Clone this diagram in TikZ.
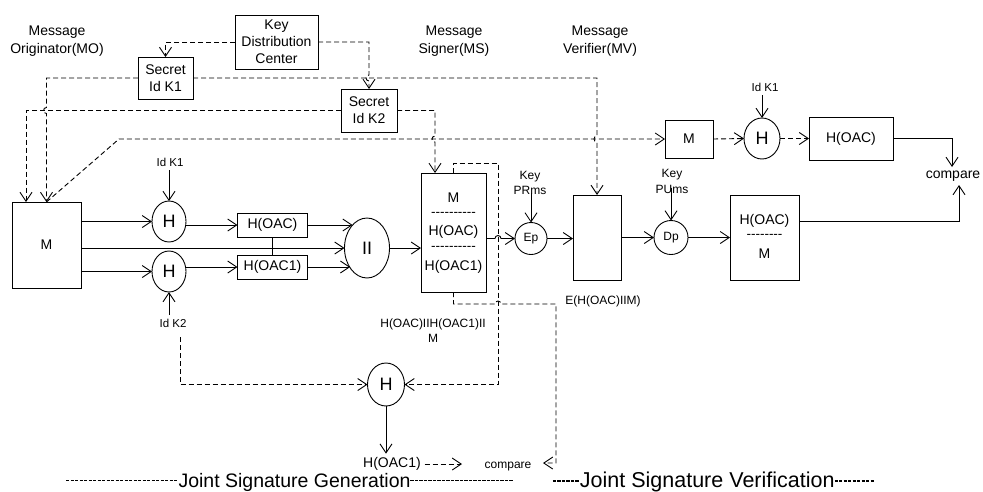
\documentclass[tikz,border=0pt]{standalone}
\usepackage{fontspec}
\setmainfont{Liberation Sans}
\usetikzlibrary{arrows.meta,shapes.geometric,calc}

% text sizes
\newcommand\tA{\fontsize{14}{17}\selectfont}
\newcommand\tM{\fontsize{14}{18}\selectfont}
\newcommand\tB{\fontsize{12}{15.5}\selectfont}
\newcommand\tC{\fontsize{11.5}{14}\selectfont}
\newcommand\tH{\fontsize{18}{20}\selectfont}
\newcommand\tJ{\fontsize{19.5}{22}\selectfont}
\newcommand\tJv{\fontsize{21.5}{24}\selectfont}

\newcount\hycount
% a run of separate hyphens (kerns keep them from joining into dashes)
\newcommand\hyrun[1]{\hycount=0 \loop\ifnum\hycount<#1 -\kern0pt\advance\hycount by 1 \repeat}
% dashed rule inside boxes
\newcommand\hyd[1]{{\fontsize{13.5}{14}\selectfont\raisebox{1.5pt}{\hyrun{#1}}}}
% dashed rule around the section captions, drawn as short rules
\newcommand\hyc[1]{\hycount=0 \loop\ifnum\hycount<#1 \rule[6pt]{3.2pt}{1.4pt}\kern1.3pt\advance\hycount by 1 \repeat}

\begin{document}
\begin{tikzpicture}[x=1pt,y=-1pt,line width=0.9pt,
  rbox/.style={draw,rectangle,inner sep=0pt,outer sep=0pt,align=center,font=\tA},
  hcirc/.style={draw,ellipse,inner sep=0pt,outer sep=0pt,font=\tH},
  kcirc/.style={draw,circle,inner sep=0pt,outer sep=0pt,font=\tB},
  lbl/.style={align=center,font=\tA},
  conn/.style={-{Straight Barb[length=9pt,width=12pt]}},
  dconn/.style={conn,dash pattern=on 5pt off 3pt}]

\useasboundingbox (0,0) rectangle (983,491);

% ---- role headings
\node[lbl,font=\tM] (mo) at (57,41) {Message\\Originator(MO)};
\node[lbl,font=\tM] (ms) at (454,41) {Message\\Signer(MS)};
\node[lbl,font=\tM] (mv) at (600,41) {Message\\Verifier(MV)};

% ---- key distribution
\node[rbox,minimum width=83pt,minimum height=54pt] (kdc) at (276.5,42) {Key\\Distribution\\Center};
\node[rbox,minimum width=55pt,minimum height=42pt] (k1) at (165.5,78) {Secret\\Id K1};
\node[rbox,minimum width=56pt,minimum height=43pt] (k2) at (369,110.5) {Secret\\Id K2};

% ---- originator
\node[rbox,minimum width=69pt,minimum height=86pt] (mobox) at (46.5,245) {M};
\node[hcirc,minimum width=34pt,minimum height=41pt] (h1) at (169,221.5) {H};
\node[hcirc,minimum width=34pt,minimum height=41pt] (h2) at (169,271.5) {H};
\node[lbl,font=\tC] (idk1a) at (170,162) {Id K1};
\node[lbl,font=\tC] (idk2) at (173,323) {Id K2};
\node[rbox,minimum width=70pt,minimum height=24pt] (ho) at (272.5,225) {H(OAC)};
\node[rbox,minimum width=70pt,minimum height=24pt] (ho1) at (272.5,267) {H(OAC1)};
\node[hcirc,minimum width=45pt,minimum height=60pt] (cat) at (367,248) {II};

% ---- signer
\node[rbox,minimum width=65pt,minimum height=119pt] (sg) at (453.5,232.5) {};
\node[lbl] (sgm) at (453.5,198) {M};
\node[lbl] (sgd1) at (453.5,215) {\hyd{10}};
\node[lbl] (sgh) at (453.5,232) {H(OAC)};
\node[lbl] (sgd2) at (453.5,249) {\hyd{10}};
\node[lbl] (sgh1) at (453.5,267) {H(OAC1)};
\node[lbl,font=\tB] (catlab) at (433,330.5) {H(OAC)IIH(OAC1)II\\M};
\node[kcirc,minimum size=32pt] (ep) at (531,238.5) {Ep};
\node[lbl,font=\tB] (prms) at (530,183) {Key\\PRms};
\node[rbox,minimum width=48pt,minimum height=85pt] (eb) at (597,237.5) {};
\node[lbl,font=\tB] (elab) at (603,301) {E(H(OAC)IIM)};

% ---- verifier
\node[kcirc,minimum size=34pt] (dp) at (671,237.5) {Dp};
\node[lbl,font=\tB] (pums) at (672,181.5) {Key\\PUms};
\node[rbox,minimum width=69pt,minimum height=85pt] (rb) at (764.5,237.5) {};
\node[lbl] (rbh) at (764.5,221) {H(OAC)};
\node[lbl] (rbd) at (764.5,237) {\hyd{8}};
\node[lbl] (rbm) at (764.5,254) {M};
\node[rbox,minimum width=48pt,minimum height=38pt] (mvm) at (689,139) {M};
\node[hcirc,minimum width=36pt,minimum height=41pt] (h4) at (762,138.5) {H};
\node[lbl,font=\tC] (idk1b) at (765,87) {Id K1};
\node[rbox,minimum width=84pt,minimum height=43pt] (hv) at (851,138.5) {H(OAC)};
\node[lbl] (cmp2) at (953,176) {compare};

% ---- second hash of the joint signature
\node[hcirc,minimum width=37pt,minimum height=43pt] (h3) at (386,384.5) {H};
\node[lbl] (hout) at (392,464) {H(OAC1)};
\node[lbl,font=\tB] (cmp1) at (508,467) {compare};

% ---- section captions
\node[lbl] (jsg) at (290,482) {\hyc{25}{\tJ Joint Signature Generation}\hyc{23}};
\node[lbl] (jsv) at (714,482) {\hyc{6}{\tJv Joint Signature Verification}\hyc{9}};

% ---- free bend points
\coordinate (mbend) at (119,139);
\coordinate (sgin) at ([xshift=-18.5pt]sg.north);
\coordinate (lpA) at (498,163);
\coordinate (lpC) at (556,304);
\coordinate (c1in) at (543,463);
\coordinate (k2drop) at (180,337);
\coordinate (houtend) at (462,464);

% ---- solid connectors
\draw[conn] (h1.west -| mobox.east) -- (h1.west);
\draw[conn] (cat.west -| mobox.east) -- (cat.west);
\draw[conn] (h2.west -| mobox.east) -- (h2.west);
\draw[conn] (h1.north |- idk1a.south) -- (h1.north);
\draw[conn] (h2.south |- idk2.north) -- (h2.south);
\draw[conn] (ho.west -| h1.east) -- (ho.west);
\draw[conn] (ho1.west -| h2.east) -- (ho1.west);
\draw (ho.south) -- (ho1.north);
\draw[conn] (ho.east) -- (ho.east -| cat.122);
\draw[conn] (ho1.east) -- (ho1.east -| cat.230);
\draw[conn] (cat.east) -- (cat.east -| sg.west);
\draw[conn] (sg.east |- ep.west) -- ($(lpA |- ep.west)+(-3,0)$)
  arc[start angle=180,end angle=0,radius=3pt] -- (ep.west);
\draw[conn] ([yshift=30pt]ep.north) -- (ep.north);
\draw[conn] (ep.east) -- (ep.east -| eb.west);
\draw[conn] (eb.east) -- (dp.west);
\draw[conn] ([yshift=33pt]dp.north) -- (dp.north);
\draw[conn] (dp.east) -- (dp.east -| rb.west);
\draw[conn] ([yshift=16.5pt]rb.east) -| ([xshift=6pt]cmp2.south);
\draw[conn] (hv.east) -| ([xshift=-1pt]cmp2.north);
\draw[conn] (h4.north |- idk1b.south) -- (h4.north);
\draw[conn] (h3.south) -- (h3.south |- hout.north);

% ---- dashed connectors
\draw[dconn] (kdc.west) -| (k1.north);
\draw[dconn] (kdc.east) -- (kdc.east -| k2.north) -- ($(k1.east -| k2.north)+(0,-3)$)
  arc[start angle=90,end angle=270,radius=3pt] -- (k2.north);
\draw[dconn] (k1.west) -- (k1.west -| mobox.north) -- ($(k2.west -| mobox.north)+(0,-3)$)
  arc[start angle=90,end angle=270,radius=3pt] -- (mobox.north);
\draw[dconn] (k1.east) -- (k1.east -| eb.north) -- ($(mvm.west -| eb.north)+(0,-3)$)
  arc[start angle=90,end angle=270,radius=3pt] -- (eb.north);
\draw[dconn] (k2.west) -| ([xshift=-20.5pt]mobox.north);
\draw[dconn] (k2.east) -- (k2.east -| sgin) -- ($(mvm.west -| sgin)+(0,-3)$)
  arc[start angle=90,end angle=270,radius=3pt] -- (sgin);
\draw[dconn] (mobox.north) -- (mbend) -- (mvm.west);
\draw[dconn] (mvm.east) -- (h4.west);
\draw[dconn] (h4.east) -- (hv.west);
\draw[dconn] (sg.north) |- (lpA) |- (h3.east);
\draw[dconn] (sg.south) -- (sg.south |- lpC) -- ($(lpA |- lpC)+(-3,0)$)
  arc[start angle=180,end angle=0,radius=3pt] -- (lpC) |- (c1in);
\draw[dconn] (k2drop) |- (h3.west);
\draw[dconn] (hout.east) -- (houtend);

\end{tikzpicture}
\end{document}
